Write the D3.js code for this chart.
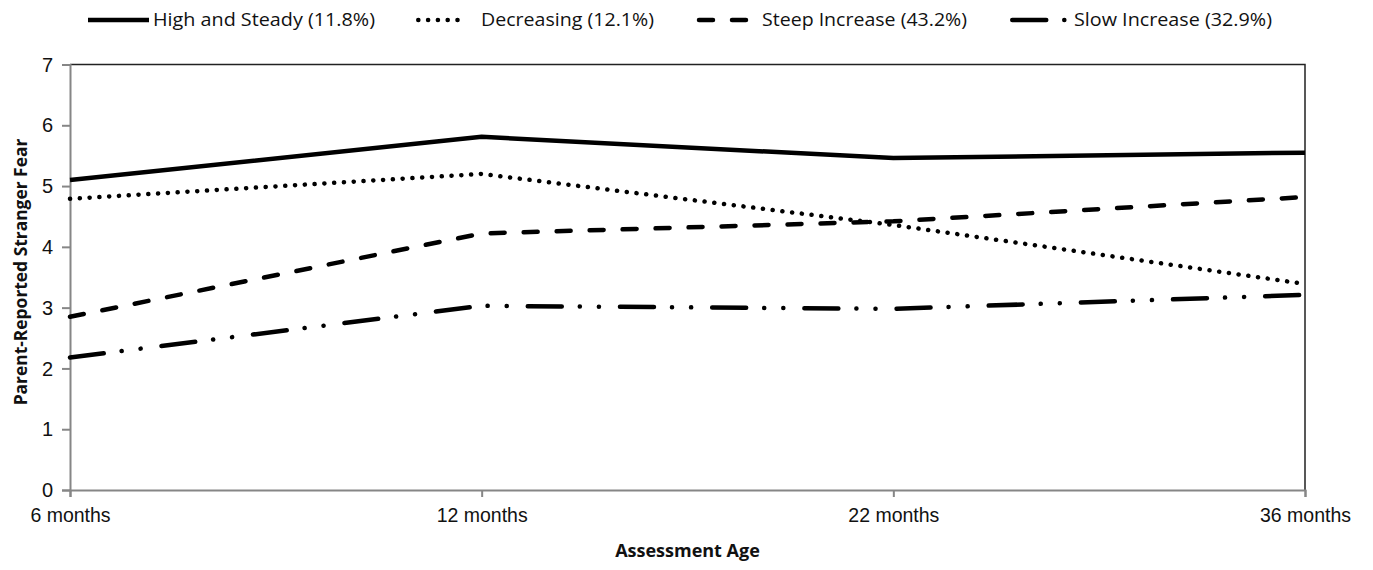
<!DOCTYPE html>
<html><head><meta charset="utf-8">
<script src="https://cdn.jsdelivr.net/npm/d3@7"></script>
<style>
html,body{margin:0;padding:0;background:#fff;}
svg{display:block;font-family:"Open Sans","Noto Sans",sans-serif;}
</style></head>
<body>
<svg id="chart" width="1373" height="570"></svg>
<script>
const categories = ["6 months", "12 months", "22 months", "36 months"];
const seriesNames = ["High and Steady (11.8%)", "Decreasing (12.1%)", "Steep Increase (43.2%)", "Slow Increase (32.9%)"];
const highSteady = [5.10, 5.81, 5.46, 5.55];
const decreasing = [4.79, 5.20, 4.36, 3.39];
const steepIncrease = [2.85, 4.22, 4.42, 4.82];
const slowIncrease = [2.18, 3.03, 2.98, 3.21];
const yTicks = [0, 1, 2, 3, 4, 5, 6, 7];
const xTitle = "Assessment Age";
const yTitle = "Parent-Reported Stranger Fear";

const dashes = ["none", "0.1 9.7", "14 19", "34 18 0.1 19 0.1 21"];
const allSeries = [highSteady, decreasing, steepIncrease, slowIncrease];

const svg = d3.select("#chart");
const L = 70, R = 1305, T = 64.5, B = 490;
const x = d3.scalePoint().domain(categories).range([L, R]);
const y = d3.scaleLinear().domain([0, 7]).range([B, T]);

// plot border (top/right)
svg.append("path").attr("d", `M${L},${T}H${R}V${B}`).attr("fill","none").attr("stroke","#222").attr("stroke-width",1.5);

// y axis
const ya = svg.append("g").attr("transform", `translate(${L},0)`)
  .call(d3.axisLeft(y).tickValues(yTicks).tickSize(8).tickPadding(9).tickFormat(d3.format("d")));
ya.select(".domain").attr("stroke","#868686").attr("stroke-width",2);
ya.selectAll(".tick line").attr("stroke","#868686").attr("stroke-width",2);
ya.selectAll(".tick text").attr("font-size", 20).attr("fill","#111").attr("dy","0.33em");

// x axis
const xa = svg.append("g").attr("transform", `translate(0,${B})`)
  .call(d3.axisBottom(x).tickSize(7).tickPadding(11));
xa.select(".domain").attr("stroke","#868686").attr("stroke-width",2);
xa.selectAll(".tick line").attr("stroke","#868686").attr("stroke-width",2);
xa.selectAll(".tick text").attr("font-size", 19.5).attr("fill","#111");

// lines
const line = d3.line().x((d,i)=>x(categories[i])).y(d=>y(d));
allSeries.forEach((s,k)=>{
  svg.append("path").datum(s).attr("d", line).attr("fill","none")
    .attr("stroke","#000").attr("stroke-width",4.5)
    .attr("stroke-linecap", k===0 ? "butt" : "round")
    .attr("stroke-linejoin","round")
    .attr("stroke-dasharray", dashes[k]);
});

// legend
const legX1 = [88, 418.25, 699, 1012.25];
const legX2 = [149, 467, 746, 1064.4];
const legTX = [153, 481, 762, 1074];
const legTW = [222, 173, 205, 198];
const legY = 20;
seriesNames.forEach((n,k)=>{
  svg.append("line").attr("x1", legX1[k]).attr("x2", legX2[k]).attr("y1", legY).attr("y2", legY)
    .attr("stroke","#000").attr("stroke-width",4.5)
    .attr("stroke-linecap", k===0 ? "butt" : "round")
    .attr("stroke-dasharray", dashes[k]);
  svg.append("text").attr("x", legTX[k]).attr("y", legY).attr("dy","0.35em")
    .attr("font-size", 18.5).attr("fill","#111")
    .attr("textLength", legTW[k]).attr("lengthAdjust","spacingAndGlyphs").text(n);
});

// axis titles
svg.append("text").attr("x", (L+R)/2).attr("y", 557).attr("text-anchor","middle")
  .attr("font-size", 18).attr("font-weight","bold").attr("fill","#111").text(xTitle);
svg.append("text").attr("transform", `translate(27,272) rotate(-90)`).attr("text-anchor","middle")
  .attr("font-size", 17.4).attr("font-weight","bold").attr("fill","#111").text(yTitle);
</script>
</body></html>
